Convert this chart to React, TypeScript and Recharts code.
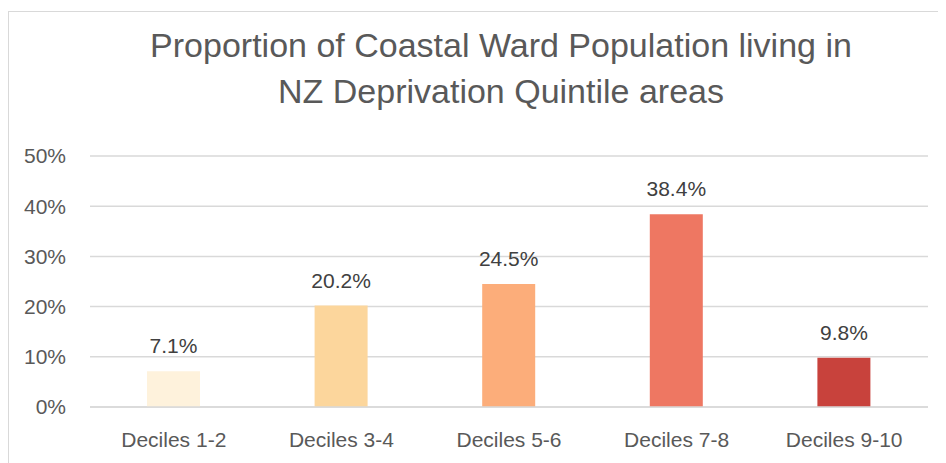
import React from "react";
import {
  BarChart,
  Bar,
  XAxis,
  YAxis,
  CartesianGrid,
  Cell,
  LabelList,
} from "recharts";

const categories = ["Deciles 1-2", "Deciles 3-4", "Deciles 5-6", "Deciles 7-8", "Deciles 9-10"];
const shares = [7.1, 20.2, 24.5, 38.4, 9.8];
const barColors = ["#FEF2DC", "#FCD69C", "#FCAD7A", "#EE7762", "#C8423C"];
const yTicks = [0, 10, 20, 30, 40, 50];
const titleLines = [
  "Proportion of Coastal Ward Population living in",
  "NZ Deprivation Quintile areas",
];

const data = categories.map((name, i) => ({ name, value: shares[i] }));

const font = "'Liberation Sans', Arial, sans-serif";
const textGray = "#595959";
const lineGray = "#d9d9d9";

export default function App() {
  return (
    <div
      style={{
        position: "relative",
        width: 938,
        height: 455,
        overflow: "hidden",
        fontFamily: font,
      }}
    >
      <div
        style={{
          position: "absolute",
          left: 0,
          top: 3,
          width: 2000,
          height: 2000,
          border: `1px solid ${lineGray}`,
        }}
      />
      <svg
        width={938}
        height={140}
        style={{ position: "absolute", left: 0, top: 0 }}
      >
        {titleLines.map((line, i) => (
          <text
            key={line}
            x={493}
            y={49 + i * 46}
            textAnchor="middle"
            fontSize={34}
            fill={textGray}
            fontFamily={font}
          >
            {line}
          </text>
        ))}
      </svg>
      <div style={{ position: "absolute", left: 0, top: 0 }}>
        <BarChart
          width={938}
          height={455}
          data={data}
          margin={{ top: 148, right: 18, left: 0, bottom: 0 }}
        >
          <CartesianGrid vertical={false} stroke={lineGray} strokeWidth={1.5} />
          <XAxis
            dataKey="name"
            height={56}
            tickLine={false}
            axisLine={{ stroke: lineGray, strokeWidth: 1.5 }}
            tickSize={0}
            tickMargin={25}
            tick={{ fill: textGray, fontSize: 21, fontFamily: font }}
          />
          <YAxis
            width={82}
            domain={[0, 50]}
            ticks={yTicks}
            tickFormatter={(v) => `${v}%`}
            axisLine={false}
            tickLine={false}
            tickSize={0}
            tickMargin={24}
            tick={{ fill: textGray, fontSize: 21, fontFamily: font }}
          />
          <Bar dataKey="value" barSize={53} isAnimationActive={false}>
            {data.map((d, i) => (
              <Cell key={d.name} fill={barColors[i]} />
            ))}
            <LabelList
              dataKey="value"
              position="top"
              offset={18}
              formatter={(v: number) => `${v.toFixed(1)}%`}
              fill="#404040"
              fontSize={21}
              fontFamily={font}
            />
          </Bar>
        </BarChart>
      </div>
    </div>
  );
}
